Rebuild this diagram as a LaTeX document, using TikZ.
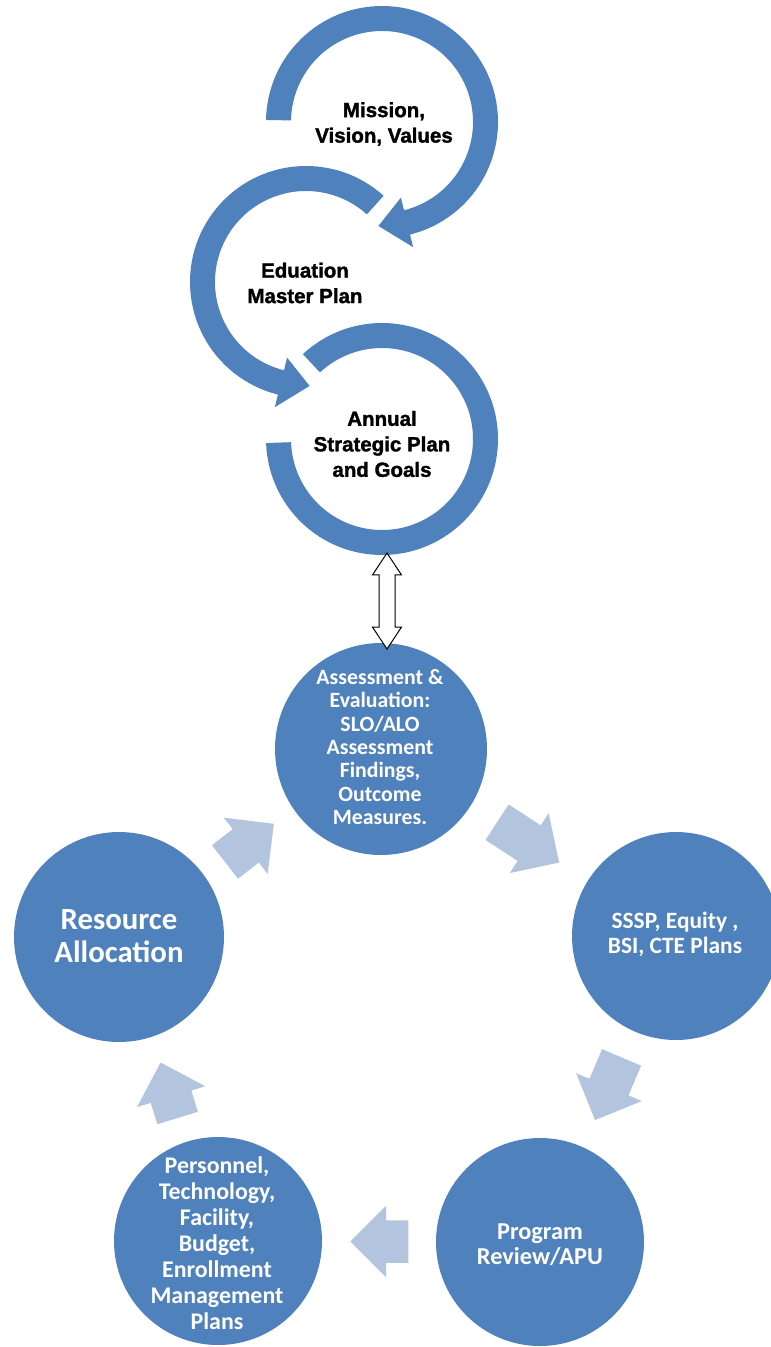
\documentclass[tikz,border=0pt]{standalone}
\usepackage{fontspec}
\usepackage{xcolor}
\setmainfont{Carlito}
\newfontfamily\headfont{Liberation Sans}[BoldFeatures={FakeBold=1.6}]
\usetikzlibrary{positioning,shapes,shapes.arrows,calc}
\definecolor{ringblue}{HTML}{4F81BD}
\definecolor{paleblue}{HTML}{B3C4DF}

\begin{document}
\begin{tikzpicture}[x=1pt,y=1pt]
\tikzstyle{every node}+=[inner sep=0pt]
\tikzstyle{stage}=[circle,fill=ringblue]
\tikzstyle{stagetext}=[text=white,align=center]
\tikzstyle{toptext}=[font=\headfont\bfseries\fontsize{20.5}{25.5}\selectfont,align=center]
\tikzstyle{flow}=[single arrow,fill=paleblue,inner xsep=0pt,inner ysep=21pt,minimum width=71pt,single arrow head extend=14.5pt]
\tikzstyle{link}=[double arrow,draw=black,fill=white,line width=1pt,rotate=90,inner xsep=0pt,inner ysep=7.5pt,minimum width=28pt,double arrow head extend=6.5pt,double arrow tip angle=67,minimum height=96pt]
\clip (0,0) rectangle (771,-1347);
\coordinate (c1) at (382,-122);
\coordinate (c2) at (306,-282);
\coordinate (c3) at (382,-439);
\fill [ringblue] ($(c1)+(179:116)$) arc [start angle=179,end angle=-76,radius=116] -- ($(c1)+(-76:129)$) -- ($(c1)+(-92:104)$) -- ($(c1)+(-76:78)$) -- ($(c1)+(-76:91)$) arc [start angle=-76,end angle=179,radius=91] -- cycle;
\fill [ringblue] ($(c2)+(48:116)$) arc [start angle=48,end angle=256,radius=116] -- ($(c2)+(256:129)$) -- ($(c2)+(272:104)$) -- ($(c2)+(256:78)$) -- ($(c2)+(256:91)$) arc [start angle=256,end angle=48,radius=91] -- cycle;
\fill [ringblue] ($(c3)+(133:116)$) arc [start angle=133,end angle=-178,radius=116] -- ($(c3)+(-178:91)$) arc [start angle=-178,end angle=133,radius=91] -- cycle;
\node [toptext] (mission) at (384,-124) {Mission,\\Vision, Values};
\node [toptext] (eduplan) at (305,-283) {Eduation\\Master Plan};
\node [toptext] (annual) at (382,-444) {Annual\\Strategic Plan\\and Goals};
\node [stage,minimum size=212pt] (assess) at (381,-749) {};
\node [stage,minimum size=210pt] (resource) at (119,-937) {};
\node [stage,minimum size=208pt] (sssp) at (676,-936) {};
\node [stage,minimum size=208pt] (review) at (540,-1242) {};
\node [stage,minimum size=208pt] (plans) at (218,-1241) {};
\node [stagetext,font=\bfseries\fontsize{21.8}{23.3}\selectfont] (assesstext) at (380,-747) {Assessment \&\\Evaluation:\\SLO/ALO\\Assessment\\Findings,\\Outcome\\Measures.};
\node [stagetext,font=\bfseries\fontsize{30.8}{33}\selectfont] (resourcetext) at (119,-936.5) {Resource\\Allocation};
\node [stagetext,font=\bfseries\fontsize{23.4}{25}\selectfont] (sssptext) at (675,-934.5) {SSSP, Equity ,\\BSI, CTE Plans};
\node [stagetext,font=\bfseries\fontsize{24.3}{25}\selectfont] (reviewtext) at (540,-1244.5) {Program\\Review/APU};
\node [stagetext,font=\bfseries\fontsize{23.9}{26}\selectfont] (planstext) at (217,-1243.5) {Personnel,\\Technology,\\Facility,\\Budget,\\Enrollment\\Management\\Plans};
\node [flow,minimum height=62pt,rotate=38] (toassess) at ($(resource)!.5!(assess)!11pt!(resource)$) {};
\node [flow,minimum height=74pt,rotate=-33] (tosssp) at ($(assess)!.5!(sssp)!11pt!(assess)$) {};
\node [flow,minimum height=68pt,rotate=-113] (toreview) at ($(sssp)!.5!(review)!11pt!(sssp)$) {};
\node [flow,minimum height=58pt,rotate=180] (toplans) at ($(review)!.5!(plans)!11pt!(review)$) {};
\node [flow,minimum height=58pt,rotate=107] (toresource) at ($(plans)!.5!(resource)!12pt!(plans)$) {};
\coordinate (linktop) at (387,-553);
\coordinate (linkbot) at (387,-649);
\node [link] (bothways) at ($(linktop)!.5!(linkbot)$) {};
\end{tikzpicture}
\end{document}
